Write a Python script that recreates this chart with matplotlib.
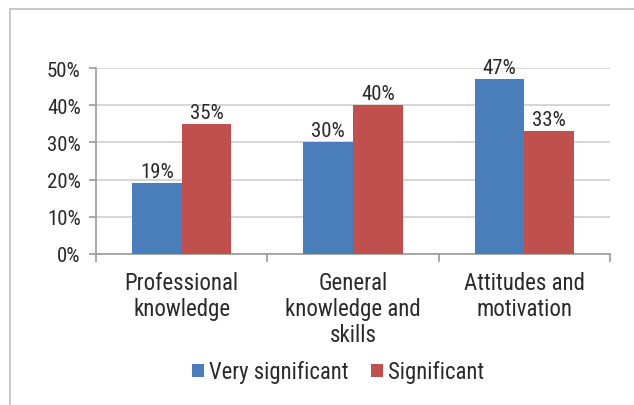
import matplotlib

matplotlib.use("Agg")
import matplotlib.pyplot as plt
import numpy as np
from matplotlib.patches import Rectangle
from matplotlib.ticker import FixedLocator, PercentFormatter

categories = ["Professional\nknowledge", "General\nknowledge and\nskills", "Attitudes and\nmotivation"]
very_significant = [19, 30, 47]
significant = [35, 40, 33]
series_names = ["Very significant", "Significant"]
y_ticks = [0, 10, 20, 30, 40, 50]

BLUE = "#4a7ebb"
RED = "#c0504d"
TEXT = "#2a2a2a"

plt.rcParams["font.family"] = ["Liberation Sans Narrow", "Roboto Condensed",
                               "DejaVu Sans Condensed", "DejaVu Sans"]
plt.rcParams["font.size"] = 13

fig = plt.figure(figsize=(6.34, 4.06), dpi=100)
ax = fig.add_axes([0.1514, 0.372, 0.811, 0.458])

# outer frame (runs off the right/bottom edge like the source)
fig.patches.append(Rectangle((10 / 634, -0.1), 1.2, 1 - 10 / 406 + 0.1,
                             transform=fig.transFigure, fill=False,
                             edgecolor="#bfbfbf", linewidth=1.2))

x = np.arange(len(categories))
w = 0.29
b1 = ax.bar(x - w / 2, very_significant, w, color=BLUE, label=series_names[0], zorder=3)
b2 = ax.bar(x + w / 2, significant, w, color=RED, label=series_names[1], zorder=3)
for bars, vals in ((b1, very_significant), (b2, significant)):
    for rect, v in zip(bars, vals):
        ax.text(rect.get_x() + rect.get_width() / 2, v + 0.6, f"{v}%",
                ha="center", va="bottom", fontsize=15, color=TEXT)

ax.set_xlim(-0.5, len(categories) - 0.5)
ax.set_ylim(0, 50)
ax.set_yticks(y_ticks)
ax.yaxis.set_major_formatter(PercentFormatter(decimals=0))
ax.set_xticks(x)
ax.set_xticklabels(categories, fontsize=16.5, color=TEXT, linespacing=1.18)
ax.tick_params(axis="x", length=0, pad=12)
ax.xaxis.set_minor_locator(FixedLocator(np.arange(-0.5, len(categories), 1.0)))
ax.tick_params(axis="x", which="minor", length=6, color="#999999", width=1.2)
ax.tick_params(axis="y", length=5, color="#999999", width=1.2, labelsize=15, labelcolor=TEXT, pad=6)

ax.grid(axis="y", color="#d0d0d0", linewidth=1.2, zorder=0)
for side in ("top", "right"):
    ax.spines[side].set_visible(False)
ax.spines["left"].set_color("#999999")
ax.spines["bottom"].set_color("#999999")
ax.spines["left"].set_linewidth(1.2)
ax.spines["bottom"].set_linewidth(1.2)

fig.legend(handles=[b1, b2], loc="center", bbox_to_anchor=(338 / 634, 1 - 373 / 406),
           ncol=2, frameon=False, fontsize=16.3, handlelength=0.55, handleheight=0.55,
           handletextpad=0.2, columnspacing=1.0, labelcolor=TEXT)

fig.savefig("out.png", dpi=100)
